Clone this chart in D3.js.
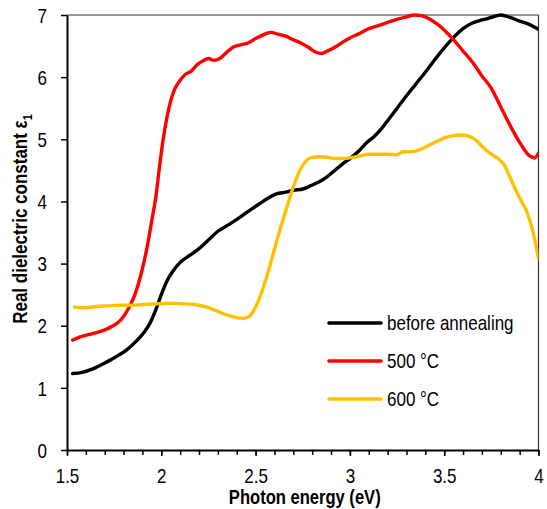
<!DOCTYPE html>
<html>
<head>
<meta charset="utf-8">
<script src="https://cdn.jsdelivr.net/npm/d3@7"></script>
<style>
  body { margin: 0; background: #fff; }
  svg { display: block; }
  text { font-family: "Liberation Sans", Arial, sans-serif; fill: #000; }
</style>
</head>
<body>
<svg id="chart" width="547" height="509"></svg>
<script>
// ---- data ----
const seriesNames = ["before annealing", "500 °C", "600 °C"];
const seriesColors = ["#000000", "#ff0000", "#ffc000"];

const blackX = [1.53,1.58,1.64,1.70,1.76,1.82,1.87,1.91,1.94,1.97,2.00,2.03,2.06,2.10,2.15,2.20,2.25,2.30,2.36,2.42,2.48,2.53,2.57,2.61,2.66,2.70,2.75,2.79,2.84,2.88,2.92,2.96,3.00,3.05,3.09,3.13,3.17,3.21,3.25,3.30,3.35,3.40,3.45,3.50,3.55,3.60,3.65,3.70,3.75,3.80,3.85,3.90,3.95,4.00];
const blackY = [1.23,1.25,1.31,1.40,1.50,1.62,1.76,1.90,2.04,2.25,2.50,2.72,2.87,3.02,3.13,3.24,3.38,3.52,3.63,3.75,3.88,3.98,4.06,4.12,4.15,4.18,4.20,4.25,4.32,4.40,4.50,4.60,4.69,4.82,4.95,5.05,5.18,5.34,5.50,5.70,5.89,6.08,6.28,6.47,6.64,6.78,6.87,6.92,6.96,7.00,6.96,6.90,6.85,6.77];

const redX = [1.53,1.57,1.62,1.67,1.72,1.77,1.80,1.83,1.86,1.89,1.91,1.93,1.95,1.97,1.99,2.01,2.03,2.05,2.07,2.10,2.13,2.16,2.19,2.22,2.25,2.28,2.31,2.34,2.38,2.42,2.46,2.50,2.54,2.58,2.62,2.66,2.70,2.74,2.78,2.82,2.85,2.88,2.92,2.96,3.00,3.05,3.10,3.15,3.20,3.25,3.30,3.34,3.38,3.42,3.46,3.50,3.55,3.60,3.65,3.70,3.75,3.80,3.85,3.90,3.95,3.98,4.00];
const redY = [1.77,1.82,1.86,1.90,1.96,2.05,2.15,2.30,2.50,2.80,3.05,3.35,3.70,4.05,4.55,5.00,5.35,5.62,5.80,5.95,6.05,6.10,6.20,6.26,6.30,6.27,6.30,6.38,6.48,6.52,6.55,6.62,6.68,6.72,6.69,6.66,6.60,6.55,6.48,6.40,6.38,6.42,6.48,6.56,6.63,6.70,6.78,6.83,6.88,6.93,6.97,7.00,6.99,6.94,6.86,6.76,6.60,6.42,6.24,6.02,5.82,5.52,5.22,4.95,4.74,4.70,4.78];

const yellowX = [1.54,1.60,1.66,1.72,1.78,1.84,1.90,1.96,2.02,2.08,2.14,2.20,2.25,2.30,2.35,2.40,2.44,2.47,2.50,2.53,2.56,2.59,2.62,2.65,2.68,2.71,2.74,2.77,2.80,2.84,2.88,2.92,2.96,3.00,3.05,3.10,3.15,3.20,3.25,3.28,3.31,3.35,3.39,3.43,3.47,3.51,3.55,3.59,3.63,3.67,3.71,3.75,3.79,3.82,3.85,3.88,3.91,3.94,3.97,4.00];
const yellowY = [2.30,2.29,2.31,2.32,2.33,2.33,2.34,2.35,2.36,2.36,2.35,2.33,2.29,2.23,2.17,2.13,2.12,2.16,2.30,2.52,2.80,3.12,3.45,3.75,4.05,4.32,4.53,4.66,4.71,4.72,4.71,4.69,4.69,4.70,4.73,4.76,4.76,4.76,4.75,4.80,4.80,4.81,4.86,4.92,4.98,5.03,5.06,5.07,5.05,4.98,4.86,4.76,4.68,4.58,4.38,4.18,4.00,3.82,3.52,3.08];

const xTicks = [1.5, 2, 2.5, 3, 3.5, 4];
const xTickLabels = ["1.5", "2", "2.5", "3", "3.5", "4"];
const yTicks = [0, 1, 2, 3, 4, 5, 6, 7];
const xTitle = "Photon energy (eV)";
const yTitle = "Real dielectric constant ε";
const yTitleSub = "1";

// ---- layout ----
const svg = d3.select("#chart");
const L = 67, R = 538.5, T = 15, B = 450;
const SX = 0.85; // horizontal condensation of the narrow font

const x = d3.scaleLinear().domain([1.5, 4]).range([L, R]);
const y = d3.scaleLinear().domain([0, 7]).range([B, T]);

svg.append("defs").append("clipPath").attr("id", "clip")
  .append("rect").attr("x", L).attr("y", T - 2).attr("width", R - L).attr("height", B - T + 2);

// frame (top, right)
svg.append("line").attr("x1", L).attr("x2", R).attr("y1", T).attr("y2", T)
  .attr("stroke", "#333").attr("stroke-width", 1.2);
svg.append("line").attr("x1", R).attr("x2", R).attr("y1", T).attr("y2", B)
  .attr("stroke", "#333").attr("stroke-width", 1.2);

// series
const series = [
  { xs: blackX, ys: blackY },
  { xs: redX, ys: redY },
  { xs: yellowX, ys: yellowY }
];
const line = d3.line().x(d => x(d[0])).y(d => y(d[1])).curve(d3.curveMonotoneX);
const plot = svg.append("g").attr("clip-path", "url(#clip)");
series.forEach((s, i) => {
  const pts = s.xs.map((v, j) => [v, s.ys[j]]);
  plot.append("path").datum(pts)
    .attr("d", line)
    .attr("fill", "none")
    .attr("stroke", seriesColors[i])
    .attr("stroke-width", 3.4)
    .attr("stroke-linejoin", "round")
    .attr("stroke-linecap", "round");
});

// x axis: minor ticks
const minorTicks = d3.range(15, 41).map(v => v / 10);
svg.append("g").attr("transform", `translate(0,${B})`)
  .call(d3.axisBottom(x).tickValues(minorTicks).tickSize(5).tickFormat(""))
  .call(g => g.select(".domain").remove())
  .call(g => g.selectAll("line").attr("stroke", "#000").attr("stroke-width", 1.5));

// x axis: major
const xAxis = svg.append("g").attr("transform", `translate(0,${B})`)
  .call(d3.axisBottom(x).tickValues(xTicks).tickSize(6).tickSizeOuter(0)
    .tickFormat((d, i) => xTickLabels[i]));
xAxis.select(".domain").attr("stroke", "#000").attr("stroke-width", 2);
xAxis.selectAll(".tick line").attr("stroke", "#000").attr("stroke-width", 1.5);
xAxis.selectAll(".tick text")
  .attr("y", 19).attr("dy", "0.71em")
  .attr("transform", `scale(${SX},1)`)
  .style("font-size", "20px").style("font-family", "'Liberation Sans', Arial, sans-serif");

// y axis
const yAxis = svg.append("g").attr("transform", `translate(${L},0)`)
  .call(d3.axisLeft(y).tickValues(yTicks).tickSize(6).tickSizeOuter(0).tickFormat(d3.format("d")));
yAxis.select(".domain").attr("stroke", "#000").attr("stroke-width", 2);
yAxis.selectAll(".tick line").attr("stroke", "#000").attr("stroke-width", 1.5);
yAxis.selectAll(".tick text")
  .attr("x", -20 / SX).attr("dy", "0.36em")
  .attr("transform", `scale(${SX},1)`)
  .style("font-size", "20px").style("font-family", "'Liberation Sans', Arial, sans-serif");

// axis titles
svg.append("text")
  .attr("transform", `translate(${(L + R) / 2 + 2},504) scale(${SX},1)`)
  .attr("text-anchor", "middle")
  .style("font-size", "19.5px").style("font-weight", "bold")
  .text(xTitle);

const yt = svg.append("text")
  .attr("transform", `translate(27,219) rotate(-90) scale(${SX},1)`)
  .attr("text-anchor", "middle")
  .style("font-size", "20px").style("font-weight", "bold");
yt.append("tspan").text(yTitle);
yt.append("tspan").attr("dy", 5).style("font-size", "13px").text(yTitleSub);

// legend
const legY = [323, 361, 399];
const leg = svg.append("g");
seriesNames.forEach((name, i) => {
  leg.append("line").attr("x1", 329).attr("x2", 381)
    .attr("y1", legY[i]).attr("y2", legY[i])
    .attr("stroke", seriesColors[i]).attr("stroke-width", 3.6)
    .attr("stroke-linecap", "round");
  leg.append("text")
    .attr("transform", `translate(387,${legY[i]}) scale(${SX},1)`)
    .attr("dy", "0.36em")
    .style("font-size", "20px")
    .text(name);
});
</script>
</body>
</html>
